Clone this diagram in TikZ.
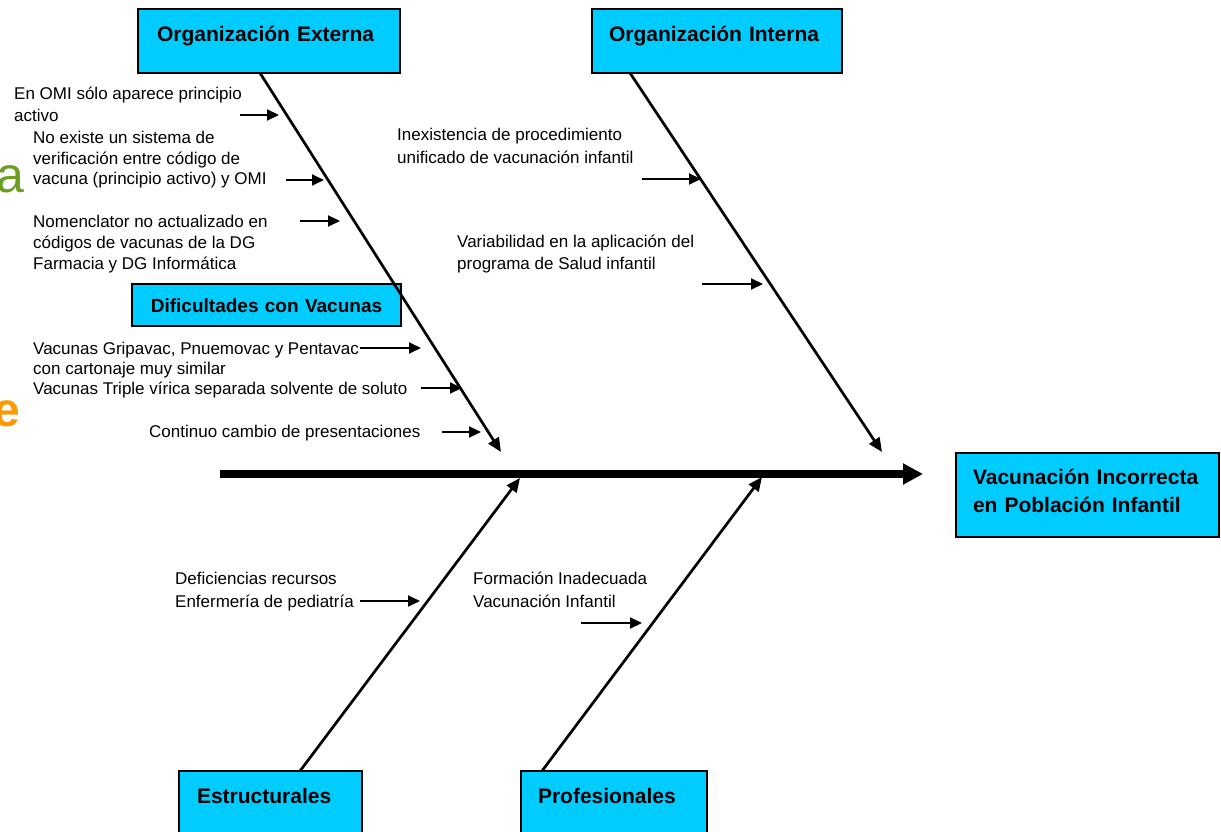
\documentclass[tikz,border=0pt]{standalone}
\usepackage{fontspec}
\setmainfont{Liberation Sans}
\usetikzlibrary{arrows.meta,calc}
\definecolor{boxcyan}{RGB}{0,204,255}
\definecolor{leafgreen}{RGB}{107,158,31}
\definecolor{tangerine}{RGB}{255,153,0}
\newcommand{\causefont}[1]{\fontsize{17}{#1}\selectfont}

\begin{document}
\begin{tikzpicture}[x=1pt, y=-1pt,
    catbox/.style={draw=black, fill=boxcyan, line width=1.5pt, outer sep=0pt, anchor=north west,
      inner ysep=0pt, align=left, font=\fontsize{21}{28}\selectfont\bfseries},
    cause/.style={anchor=base west, inner sep=0pt, align=left},
    bone/.style={line width=2.7pt, -{Triangle[length=14pt,width=12pt]}},
    twig/.style={line width=2pt, -{Triangle[length=12pt,width=11pt]}},
    spine/.style={line width=7.5pt, -{Triangle[length=20pt,width=20pt]}}]
  \useasboundingbox (0,0) rectangle (1221,832);
  \clip (0,0) rectangle (1221,832);

  % letters of the slide behind, cut by the left edge
  \node[anchor=base west, inner sep=0pt, text=leafgreen, font=\fontsize{50}{50}\selectfont] (bga) at (-3.5,193) {a};
  \node[anchor=base west, inner sep=0pt, text=tangerine, font=\fontsize{48}{48}\selectfont\bfseries] (bge) at (-6.7,426) {e};

  % category boxes (top left corner, text near the top)
  \node[catbox, inner xsep=19pt, text width=224pt, text height=33pt, text depth=31pt] (ext) at (138,9) {Organización Externa};
  \node[catbox, inner xsep=17pt, text width=216pt, text height=33pt, text depth=31pt] (int) at (592,9) {Organización Interna};
  \node[catbox, font=\fontsize{19}{24}\selectfont\bfseries, align=center, inner xsep=0pt, text width=269pt,
    text height=28pt, text depth=14pt] (dif) at (132,284) {Dificultades con Vacunas};
  \node[catbox, inner xsep=18pt, text width=147pt, text height=32pt, text depth=48pt] (est) at (179,771) {Estructurales};
  \node[catbox, inner xsep=17pt, text width=152pt, text height=32pt, text depth=48pt] (pro) at (521,771) {Profesionales};

  % effect box
  \node[catbox, inner xsep=17pt, text width=229pt, text height=31.5pt, text depth=52.5pt] (eff) at (956,453) {Vacunación Incorrecta\\en Población Infantil};

  % spine and bones
  \coordinate (spineTail) at (220,474);
  \coordinate (spineHead) at (923,474);
  \coordinate (extTip) at (501,452);
  \coordinate (intTip) at (882,452);
  \coordinate (estTip) at (520,478);
  \coordinate (proTip) at (762,477);
  \draw[spine] (spineTail) -- (spineHead);
  \draw[bone] ($(ext.south west)+(122,0)$) -- (extTip);
  \draw[bone] ($(int.south west)+(38,0)$) -- (intTip);
  \draw[bone] ($(est.north west)+(121,0)$) -- (estTip);
  \draw[bone] ($(pro.north west)+(21,0)$) -- (proTip);

  % causes (placed at the baseline of their last line)
  \node[cause, font=\causefont{22}] (omi) at (14,121.5) {En OMI sólo aparece principio\\activo};
  \node[cause, font=\causefont{20.5}] (verif) at (33,184.5) {No existe un sistema de\\verificación entre código de\\vacuna (principio activo) y OMI};
  \node[cause, font=\causefont{21}] (nomen) at (33,269.5) {Nomenclator no actualizado en\\códigos de vacunas de la DG\\Farmacia y DG Informática};
  \node[cause, font=\causefont{20}] (gripa) at (33,374.5) {Vacunas Gripavac, Pnuemovac y Pentavac\\con cartonaje muy similar};
  \node[cause, font=\causefont{20}] (triple) at (33,394.5) {Vacunas Triple vírica separada solvente de soluto};
  \node[cause, font=\causefont{20}] (contin) at (149,437.5) {Continuo cambio de presentaciones};
  \node[cause, font=\causefont{23}] (inex) at (397,163.5) {Inexistencia de procedimiento\\unificado de vacunación infantil};
  \node[cause, font=\causefont{22}] (vari) at (457,269.5) {Variabilidad en la aplicación del\\programa de Salud infantil};
  \node[cause, font=\causefont{23}] (defic) at (175,607.5) {Deficiencias recursos\\Enfermería de pediatría};
  \node[cause, font=\causefont{23}] (form) at (473,607.5) {Formación Inadecuada\\Vacunación Infantil};

  % small arrows onto the bones
  \foreach \i/\tx/\hx/\yy in {1/240/279/115, 2/286/324/180, 3/300/340/221, 4/360/421/348, 5/421/462/388,
      6/442/481/432, 7/642/701/179, 8/702/763/284, 9/360/420/601, 10/581/642/623} {
    \coordinate (tw\i a) at (\tx,\yy);
    \coordinate (tw\i b) at (\hx,\yy);
    \draw[twig] (tw\i a) -- (tw\i b);
  }
\end{tikzpicture}
\end{document}
